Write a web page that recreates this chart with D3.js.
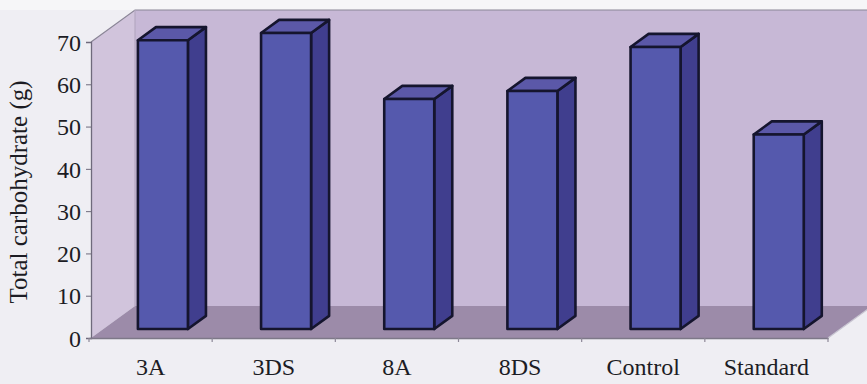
<!DOCTYPE html>
<html>
<head>
<meta charset="utf-8">
<script src="https://cdn.jsdelivr.net/npm/d3@7/dist/d3.min.js"></script>
<style>
  html, body { margin: 0; padding: 0; background: #eeedf2; }
  svg { display: block; }
  text { font-family: "Liberation Serif", "Times New Roman", serif; fill: #1c1c24; }
</style>
</head>
<body>
<svg id="chart" width="867" height="384"></svg>
<script>
// Total carbohydrate per formulation
const categories = ["3A", "3DS", "8A", "8DS", "Control", "Standard"];
const carbohydrate = [68.3, 70.0, 54.4, 56.3, 66.7, 46.0];
const yTicks = [0, 10, 20, 30, 40, 50, 60, 70];
const yTitle = "Total carbohydrate (g)";

const W = 867, H = 384;
const svg = d3.select("#chart");

// Front plane of the 3-D box
const plotLeft = 89, plotRight = 828, plotTop = 42, plotBottom = 338;
// Depth vector of the box (front plane -> back wall)
const DX = 44, DY = -32;
// Depth slice occupied by the columns
const f1 = 0.28, f2 = 0.69;

const y = d3.scaleLinear().domain([0, 70]).range([plotBottom, plotTop]);
const xCat = d3.scaleBand().domain(categories).range([plotLeft, plotRight]);
const xBar = d3.scaleBand().domain(categories).range([plotLeft, plotRight])
  .paddingInner(0.594).paddingOuter(0.297);

const pts = a => a.map(p => p.join(",")).join(" ");

// Background
svg.append("rect").attr("width", W).attr("height", H).attr("fill", "#efeef3");
svg.append("rect").attr("width", W).attr("height", plotTop + DY).attr("fill", "#f6f6f8");

const x0 = plotLeft + 2, y0 = y(0), yT = y(70);
// Back wall
svg.append("polygon")
  .attr("points", pts([[x0 + DX, yT + DY], [W + 10, yT + DY], [W + 10, y0 + DY], [x0 + DX, y0 + DY]]))
  .attr("fill", "#c7b8d6");
// Left wall
svg.append("polygon")
  .attr("points", pts([[x0, yT], [x0 + DX, yT + DY], [x0 + DX, y0 + DY], [x0, y0]]))
  .attr("fill", "#d1c4dc");
// Floor
svg.append("polygon")
  .attr("points", pts([[x0, y0], [x0 + DX, y0 + DY], [plotRight + DX, y0 + DY], [plotRight, y0]]))
  .attr("fill", "#9c8ba9");

// Box edges
const edge = svg.append("g").attr("fill", "none").attr("stroke", "#8a8596").attr("stroke-width", 1.2);
edge.append("polyline").attr("points", pts([[x0, yT], [x0 + DX, yT + DY], [W + 10, yT + DY]]));
edge.append("line").attr("x1", x0 + DX).attr("y1", yT + DY).attr("x2", x0 + DX).attr("y2", y0 + DY)
  .attr("stroke", "#b4a8c2");
edge.append("polyline").attr("points", pts([[plotRight, y0], [plotRight + DX, y0 + DY]])).attr("stroke", "#c9c6d2");

// Y axis (front-left edge)
const yAxis = svg.append("g").attr("transform", `translate(${x0},0)`)
  .call(d3.axisLeft(y).tickValues(yTicks).tickSize(5).tickPadding(5));
yAxis.select(".domain").attr("stroke", "#6f6a7c").attr("stroke-width", 1.3);
yAxis.selectAll(".tick line").attr("stroke", "#6f6a7c");
yAxis.selectAll(".tick text").attr("font-size", 24).attr("font-family", "Liberation Serif")
  .attr("fill", "#1c1c24").attr("dy", "0.34em");

// X axis (front floor edge) with ticks on category boundaries
const xAxis = svg.append("g").attr("transform", `translate(0,${y0})`)
  .call(d3.axisBottom(xCat).tickSize(0).tickPadding(20));
xAxis.select(".domain").attr("stroke", "#7d7888").attr("stroke-width", 1.4);
xAxis.selectAll(".tick text").attr("font-size", 24).attr("font-family", "Liberation Serif")
  .attr("fill", "#1c1c24");
const bounds = categories.map(c => xCat(c)).concat([plotRight]);
svg.append("g").selectAll("line").data(bounds).join("line")
  .attr("x1", d => d).attr("x2", d => d).attr("y1", y0).attr("y2", y0 + 4)
  .attr("stroke", "#8d8898").attr("stroke-width", 1.2);

// Axis title
svg.append("text")
  .attr("transform", `translate(27,${(plotTop + plotBottom) / 2 + 2}) rotate(-90)`)
  .attr("text-anchor", "middle")
  .attr("font-size", 25)
  .text(yTitle);

// 3-D columns
const w = xBar.bandwidth();
const dd = f2 - f1;
const bars = svg.append("g").selectAll("g").data(categories.map((c, i) => ({ c, v: carbohydrate[i] }))).join("g");
bars.each(function (d) {
  const g = d3.select(this);
  const bx = xBar(d.c) + f1 * DX;
  const yb = y(0) + f1 * DY;
  const yt = y(d.v) + f1 * DY;
  const ox = dd * DX, oy = dd * DY;
  const style = s => s.attr("stroke", "#15152e").attr("stroke-width", 2.6).attr("stroke-linejoin", "round");
  // side
  g.append("polygon")
    .attr("points", pts([[bx + w, yt], [bx + w + ox, yt + oy], [bx + w + ox, yb + oy], [bx + w, yb]]))
    .attr("fill", "#403e8e").call(style);
  // top
  g.append("polygon")
    .attr("points", pts([[bx, yt], [bx + ox, yt + oy], [bx + w + ox, yt + oy], [bx + w, yt]]))
    .attr("fill", "#5b58a8").call(style);
  // front
  g.append("rect")
    .attr("x", bx).attr("y", yt).attr("width", w).attr("height", yb - yt)
    .attr("fill", "#5559ad").call(style);
});
</script>
</body>
</html>
